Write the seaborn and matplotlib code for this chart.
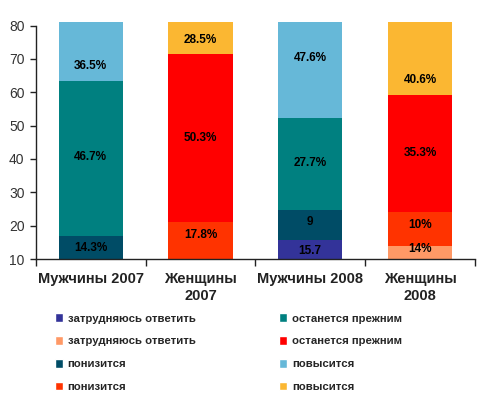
import numpy as np
import pandas as pd
import matplotlib.pyplot as plt
import seaborn as sns
from matplotlib.patches import Patch

sns.set_style("white")
plt.rcParams['font.family'] = ['Liberation Sans', 'DejaVu Sans']

# categories and layers (bottom to top)
groups = ['Мужчины 2007', 'Женщины\n2007', 'Мужчины 2008', 'Женщины\n2008']
layers = ['затрудняюсь ответить', 'понизится', 'останется прежним', 'повысится']

# values per layer (2007 "затрудняюсь" = remainder to 100, hidden below axis)
hard_to_say = [2.5, 3.4, 15.7, 14.0]
will_fall = [14.3, 17.8, 9.0, 10.0]
stay_same = [46.7, 50.3, 27.7, 35.3]
will_rise = [36.5, 28.5, 47.6, 40.6]

bar_labels = [
    ['', '', '15.7', '14%'],
    ['14.3%', '17.8%', '9', '10%'],
    ['46.7%', '50.3%', '27.7%', '35.3%'],
    ['36.5%', '28.5%', '47.6%', '40.6%'],
]
# where the labels sit (the source moved some of them by hand)
label_y = [
    [np.nan, np.nan, 12.5, 13.1],
    [13.3, 17.2, 21.2, 20.2],
    [40.5, 46.4, 38.9, 41.9],
    [68.0, 75.7, 70.2, 63.7],
]

men_colors = ['#333399', '#004C66', '#008080', '#66B8D8']
women_colors = ['#FF9966', '#FF3300', '#FF0000', '#FBB732']

values = np.array([hard_to_say, will_fall, stay_same, will_rise])
cum = values.cumsum(axis=0)

fig = plt.figure(figsize=(4.84, 3.97), dpi=100)
ax = fig.add_axes([0.0738, 0.3476, 0.9074, 0.5962])

# draw cumulative totals from the top layer down so each layer covers the next
for i in range(len(layers) - 1, -1, -1):
    df = pd.DataFrame({'group': groups, 'value': cum[i]})
    pal = [men_colors[i], women_colors[i], men_colors[i], women_colors[i]]
    sns.barplot(data=df, x='group', y='value', hue='group', palette=pal,
                legend=False, width=0.585, saturation=1, ax=ax,
                linewidth=0, errorbar=None)

for i in range(len(layers)):
    for j in range(len(groups)):
        if bar_labels[i][j]:
            ax.text(j, label_y[i][j], bar_labels[i][j], ha='center', va='center',
                    fontsize=8.5, fontweight='bold', color='black')

ax.set_xlim(-0.5, 3.5)
ax.set_ylim(10, 81)
ax.set_yticks(range(10, 81, 10))
ax.set_xlabel('')
ax.set_ylabel('')

sns.despine(ax=ax, top=True, right=True)
ax.spines['left'].set_bounds(10, 80)
ax.spines['left'].set_color('#222222')
ax.spines['bottom'].set_color('#222222')
ax.spines['left'].set_linewidth(1)
ax.spines['bottom'].set_linewidth(1)

ax.tick_params(axis='y', left=True, length=4, width=1, color='#222222',
               labelsize=10, labelcolor='#333333', pad=4)
ax.set_xticks(np.arange(-0.5, 4, 1.0), minor=True)
ax.tick_params(axis='x', which='minor', bottom=True, length=5, width=1, color='#222222')
ax.tick_params(axis='x', which='major', bottom=False, length=0, pad=9)
ax.set_xticklabels(groups, fontsize=10.5, fontweight='bold', color='#222222',
                   linespacing=1.35)

handles = []
for i in range(len(layers)):
    handles.append(Patch(facecolor=men_colors[i], label=layers[i]))
    handles.append(Patch(facecolor=women_colors[i], label=layers[i]))

fig.legend(handles=handles, ncol=2, loc='upper left',
           bbox_to_anchor=(0.101, 0.225), frameon=False,
           prop={'size': 8.2, 'weight': 'bold'},
           handlelength=0.75, handleheight=0.75, handletextpad=0.4,
           labelspacing=1.12, columnspacing=7.3, borderpad=0)

fig.savefig('out.png', dpi=100)
